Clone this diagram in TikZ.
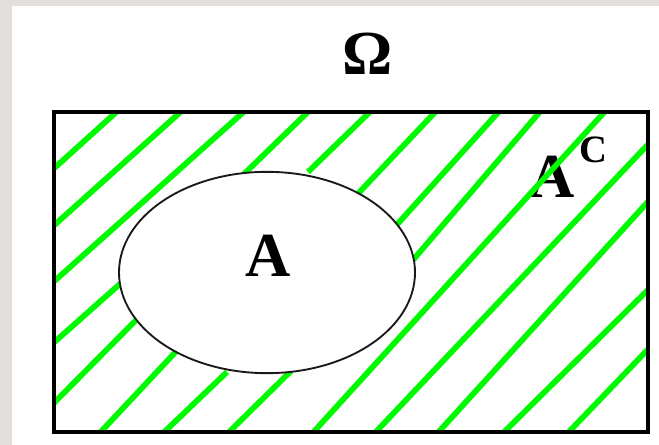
\documentclass[tikz,border=0pt]{standalone}
\usepackage{fontspec}
\setmainfont{Liberation Serif}
\usetikzlibrary{positioning,shapes.geometric}
\definecolor{venngreen}{RGB}{0,250,0}
\definecolor{venngray}{RGB}{227,224,219}
\tikzset{
  vennframe/.style={draw=black,line width=3pt},
  vennset/.style={ellipse,draw=black!90,line width=1.4pt,fill=white,
                  minimum width=222pt,minimum height=151pt,inner sep=0pt},
  vennhatch/.style={venngreen,line width=4.3pt},
  vennlabel/.style={font=\fontsize{47}{50}\selectfont\bfseries,inner sep=0pt}
}

\begin{document}
\begin{tikzpicture}[x=0.75pt,y=-0.75pt]
  \fill[venngray] (0,0) rectangle (659,445);
  \fill[white] (12,6) rectangle (659,445);
  \useasboundingbox (0,0) rectangle (659,445);

  \coordinate (omegaNW) at (54,112);
  \coordinate (omegaSE) at (648,432);

  \node[vennlabel,anchor=base] (omega) at (368,75) {Ω};
  \node[vennlabel,anchor=base west] (labelAc) at (529,197)
    {A\kern4pt\raisebox{25.5pt}{\fontsize{29}{31}\selectfont C}};

  % hatching of the complement
  \begin{scope}
    \clip (omegaNW) rectangle (omegaSE);
    \foreach \xa/\ya/\xb/\yb in {50/172/122/107, 50/229/185/108, 50/285/248/108,
        244/174/312/108, 308/172/375/107, 351/201/440/107, 393/229/503/107,
        413/260/544/107, 309/437/609/107, 371/437/655/137, 434/437/655/194,
        499/437/655/283, 564/437/655/342, 50/346/121/283, 50/407/142/314,
        96/437/184/343, 159/437/227/372, 224/437/291/371}{
      \draw[vennhatch] (\xa,\ya) -- (\xb,\yb);
    }
  \end{scope}

  \node[vennset] (setA) at (267,272.5) {};
  \node[vennlabel] (labelA) at (268,256) {A};
  \draw[vennframe] (omegaNW) rectangle (omegaSE);
\end{tikzpicture}
\end{document}
